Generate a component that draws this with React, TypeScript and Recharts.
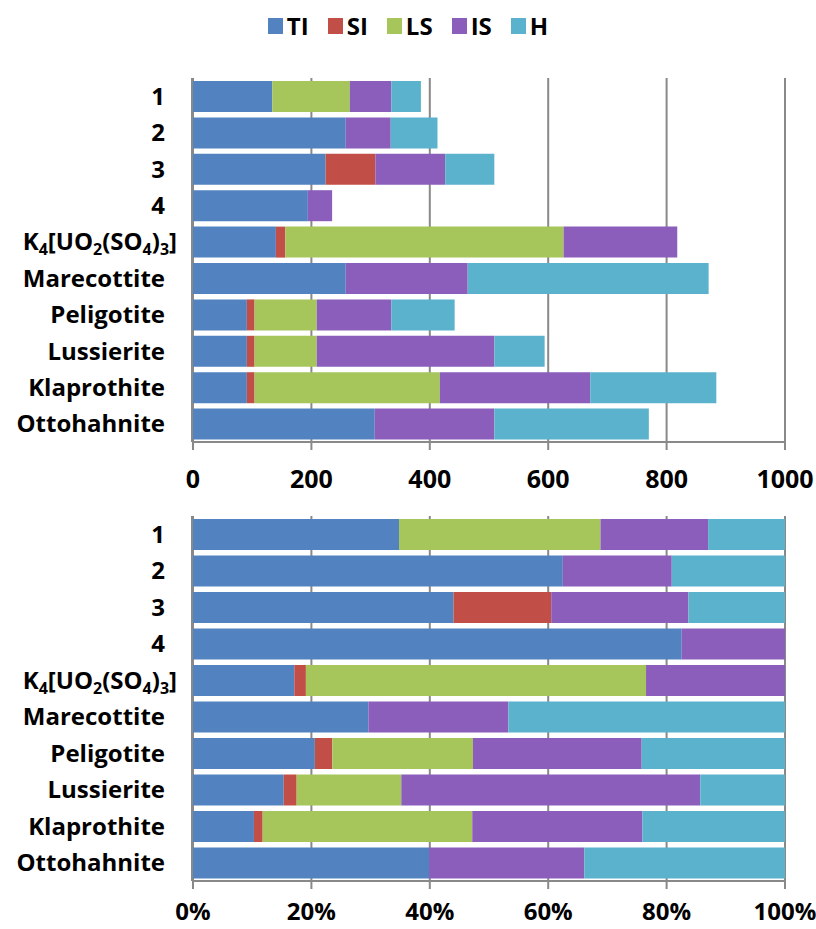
import React from 'react';
import { BarChart, Bar, XAxis, YAxis, CartesianGrid, Legend } from 'recharts';

// Categories (top to bottom)
const categories = [
  '1',
  '2',
  '3',
  '4',
  'K4[UO2(SO4)3]',
  'Marecottite',
  'Peligotite',
  'Lussierite',
  'Klaprothite',
  'Ottohahnite',
];

// Series values
const TI = [134, 258, 224, 194, 140, 258, 91, 91, 91, 307];
const SI = [0, 0, 84, 0, 16, 0, 13, 13, 13, 0];
const LS = [131, 0, 0, 0, 470, 0, 105, 105, 313, 0];
const IS = [70, 76, 118, 41, 192, 206, 126, 300, 254, 202];
const H = [50, 79, 83, 0, 0, 407, 107, 85, 213, 261];

const absTicks = [0, 200, 400, 600, 800, 1000];
const pctTicks = [0, 0.2, 0.4, 0.6, 0.8, 1];
const edgeTicks = [0, 1, 2, 3, 4, 5, 6, 7, 8, 9, 10];

const SERIES = [
  { key: 'TI', color: '#5283C0' },
  { key: 'SI', color: '#C24E48' },
  { key: 'LS', color: '#A6C55A' },
  { key: 'IS', color: '#8C5EBB' },
  { key: 'H', color: '#5BB2CC' },
];

const data = categories.map((name, i) => ({
  name,
  TI: TI[i],
  SI: SI[i],
  LS: LS[i],
  IS: IS[i],
  H: H[i],
}));

const FONT = "'Open Sans', sans-serif";
const AXIS = '#898989';

// y labels: digits inside a formula become subscripts
function CategoryTick(props: any) {
  const { x, y, payload } = props;
  const label: string = String(payload.value);
  const isFormula = /\[/.test(label);
  const parts = label.length > 1 ? label.split(/(\d)/).filter((p) => p !== '') : [label];
  let shifted = false;
  return (
    <text
      x={x - (isFormula ? 16 : 28)}
      y={y + 8.5}
      textAnchor="end"
      fill="#000"
      fontFamily={FONT}
      fontWeight={700}
      fontSize={24}
    >
      {parts.map((p, i) => {
        const isSub = label.length > 1 && /^\d$/.test(p);
        let dy: number | undefined;
        if (isSub && !shifted) {
          dy = 5;
          shifted = true;
        } else if (!isSub && shifted) {
          dy = -5;
          shifted = false;
        }
        return (
          <tspan key={i} dy={dy} fontSize={isSub ? 16 : 24}>
            {p}
          </tspan>
        );
      })}
    </text>
  );
}

function LegendContent(props: any) {
  const { payload = [] } = props;
  const ordered = SERIES.map((s) => payload.find((p: any) => p.value === s.key)).filter(Boolean);
  return (
    <div
      style={{
        display: 'flex',
        justifyContent: 'center',
        alignItems: 'center',
        height: 40,
        fontFamily: FONT,
        fontWeight: 700,
        fontSize: 24,
        lineHeight: '24px',
        color: '#000',
      }}
    >
      {ordered.map((entry: any, i: number) => (
        <div key={i} style={{ display: 'flex', alignItems: 'center', marginRight: i < ordered.length - 1 ? 19 : 0 }}>
          <span style={{ display: 'inline-block', width: 15, height: 16, background: entry.color, marginRight: 4 }} />
          <span>{entry.value}</span>
        </div>
      ))}
    </div>
  );
}

function StackChart({ percent }: { percent: boolean }) {
  const height = percent ? 429 : 500;
  const margin = percent
    ? { top: 16, right: 31, bottom: 8, left: 33 }
    : { top: 78, right: 31, bottom: 8, left: 33 };
  const xTickStyle = { fill: '#000', fontSize: percent ? 24 : 25, fontWeight: 700, fontFamily: FONT };
  return (
    <BarChart
      width={816}
      height={height}
      data={data}
      layout="vertical"
      margin={margin}
      stackOffset={percent ? 'expand' : 'none'}
      style={{ fontFamily: FONT, overflow: 'visible' }}
    >
      <CartesianGrid
        horizontal={false}
        stroke={AXIS}
        strokeWidth={2}
        yAxisId="cat"
      />
      <XAxis
        type="number"
        domain={percent ? [0, 1] : [0, 1000]}
        ticks={percent ? pctTicks : absTicks}
        tickFormatter={(v: number) => (percent ? `${Math.round(v * 100)}%` : String(v))}
        interval={0}
        height={percent ? 40 : 50}
        tickSize={8}
        tickMargin={percent ? 14 : 20}
        axisLine={{ stroke: AXIS, strokeWidth: 2 }}
        tickLine={{ stroke: AXIS, strokeWidth: 2 }}
        tick={xTickStyle}
      />
      <YAxis
        yAxisId="cat"
        type="category"
        dataKey="name"
        width={1}
        interval={0}
        axisLine={false}
        tickLine={false}
        tickSize={0}
        tickMargin={0}
        tick={<CategoryTick />}
      />
      <YAxis
        yAxisId="edges"
        type="number"
        domain={[0, 10]}
        ticks={edgeTicks}
        interval={0}
        width={159}
        tick={false}
        tickSize={8}
        axisLine={{ stroke: AXIS, strokeWidth: 2 }}
        tickLine={{ stroke: AXIS, strokeWidth: 2 }}
      />
      {!percent && (
        <Legend
          layout="horizontal"
          verticalAlign="middle"
          align="center"
          wrapperStyle={{ top: 6, left: 0, width: 816, height: 40 }}
          content={<LegendContent />}
        />
      )}
      {SERIES.map((s) => (
        <Bar
          key={s.key}
          dataKey={s.key}
          name={s.key}
          stackId="a"
          yAxisId="cat"
          fill={s.color}
          barSize={31}
          isAnimationActive={false}
        />
      ))}
    </BarChart>
  );
}

export default function App() {
  return (
    <div style={{ position: 'absolute', left: 0, top: 0, width: 816, height: 929, background: '#fff' }}>
      <div style={{ position: 'absolute', left: 0, top: 0 }}>
        <StackChart percent={false} />
      </div>
      <div style={{ position: 'absolute', left: 0, top: 500 }}>
        <StackChart percent={true} />
      </div>
    </div>
  );
}
